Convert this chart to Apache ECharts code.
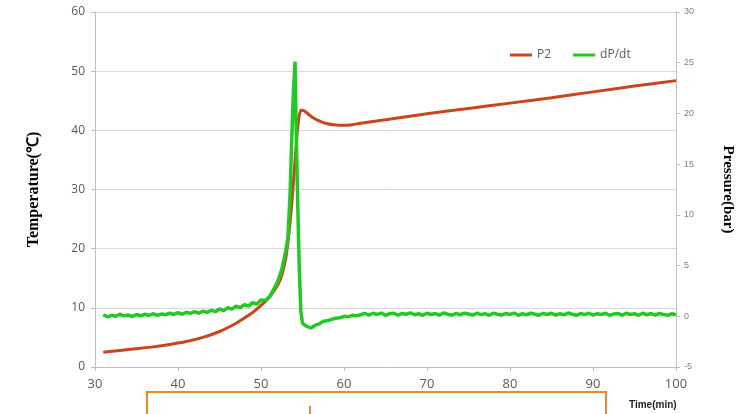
<!DOCTYPE html>
<html>
<head>
<meta charset="utf-8">
<script src="https://cdn.jsdelivr.net/npm/echarts@6/dist/echarts.min.js"></script>
<style>
html, body { margin: 0; padding: 0; background: #fff; }
#main { width: 745px; height: 414px; }
</style>
</head>
<body>
<div id="main"></div>
<script>
// P2 (left axis)
var p2Time = [31, 33, 35, 37, 39, 41, 43, 45, 47, 48, 49, 50, 51, 52, 52.5, 53, 53.4, 53.7, 54.0, 54.3, 54.55, 54.8, 55.2, 56, 57, 58, 59, 60, 61, 62, 65, 70, 75, 80, 85, 90, 95, 100];
var p2Values = [2.5, 2.8, 3.1, 3.4, 3.8, 4.3, 5.0, 6.0, 7.4, 8.3, 9.2, 10.4, 11.8, 13.8, 15.5, 18.5, 23, 27.5, 33, 38.5, 42, 43.4, 43.3, 42.4, 41.6, 41.1, 40.9, 40.85, 40.95, 41.2, 41.8, 42.8, 43.7, 44.6, 45.5, 46.5, 47.5, 48.4];

// dP/dt (right axis)
var dpdtTime = [
  31, 31.5, 32, 32.5, 33, 33.5, 34, 34.5, 35, 35.5, 36, 36.5, 37, 37.5, 38, 38.5, 39, 39.5, 40, 40.5,
  41, 41.5, 42, 42.5, 43, 43.5, 44, 44.5, 45, 45.5, 46, 46.5, 47, 47.5, 48, 48.5, 49, 49.5, 50, 50.5,
  51, 51.5, 52, 52.5, 53, 53.25, 53.5, 53.7, 53.9, 54.1, 54.2, 54.4, 54.6, 54.8, 55, 55.5, 56, 56.5, 57, 57.5,
  58, 58.5, 59, 59.5, 60, 60.5, 61, 61.5, 62, 62.5, 63, 63.5, 64, 64.5, 65, 65.5, 66, 66.5, 67, 67.5,
  68, 68.5, 69, 69.5, 70, 70.5, 71, 71.5, 72, 72.5, 73, 73.5, 74, 74.5, 75, 75.5, 76, 76.5, 77, 77.5,
  78, 78.5, 79, 79.5, 80, 80.5, 81, 81.5, 82, 82.5, 83, 83.5, 84, 84.5, 85, 85.5, 86, 86.5, 87, 87.5,
  88, 88.5, 89, 89.5, 90, 90.5, 91, 91.5, 92, 92.5, 93, 93.5, 94, 94.5, 95, 95.5, 96, 96.5, 97, 97.5,
  98, 98.5, 99, 99.5, 100
];
var dpdtValues = [
  0.15, -0.05, 0.1, 0.0, 0.2, 0.05, 0.12, -0.02, 0.18, 0.05, 0.2, 0.08, 0.25, 0.1, 0.22, 0.15, 0.3, 0.18, 0.35, 0.2,
  0.4, 0.28, 0.45, 0.3, 0.5, 0.38, 0.6, 0.45, 0.72, 0.55, 0.85, 0.7, 1.0, 0.85, 1.15, 1.0, 1.35, 1.2, 1.6, 1.55,
  1.9, 2.6, 3.4, 4.6, 6.5, 7.8, 12, 17.4, 22, 25.1, 20, 12, 5, 0.5, -0.7, -1.0, -1.15, -0.9, -0.75, -0.5,
  -0.45, -0.3, -0.2, -0.15, 0.0, -0.05, 0.1, 0.05, 0.15, 0.28, 0.12, 0.3, 0.18, 0.32, 0.1, 0.25, 0.3, 0.12, 0.28, 0.2,
  0.33, 0.15, 0.25, 0.1, 0.3, 0.18, 0.27, 0.12, 0.32, 0.2, 0.1, 0.28, 0.15, 0.3, 0.22, 0.12, 0.3, 0.16, 0.26, 0.1,
  0.3, 0.2, 0.12, 0.28, 0.18, 0.32, 0.1, 0.25, 0.15, 0.3, 0.2, 0.1, 0.28, 0.18, 0.3, 0.12, 0.25, 0.15, 0.32, 0.2,
  0.1, 0.27, 0.16, 0.3, 0.12, 0.25, 0.18, 0.3, 0.1, 0.22, 0.28, 0.12, 0.3, 0.18, 0.25, 0.1, 0.3, 0.15, 0.27, 0.12,
  0.28, 0.18, 0.1, 0.25, 0.15
];

function pairs(xs, ys) {
  var d = [];
  for (var i = 0; i < xs.length; i++) {
    d.push([xs[i], ys[i]]);
  }
  return d;
}

var myChart = echarts.init(document.getElementById('main'));

var option = {
  animation: false,
  grid: { left: 95, right: 69, top: 12, bottom: 47 },
  legend: {
    top: 44,
    left: 505,
    itemGap: 22,
    itemWidth: 22,
    itemHeight: 3,
    icon: 'rect',
    textStyle: { color: '#595959', fontSize: 12, fontFamily: 'Open Sans' },
    data: ['P2', 'dP/dt']
  },
  xAxis: {
    type: 'value',
    min: 30,
    max: 100,
    interval: 10,
    axisLine: { lineStyle: { color: '#bfbfbf' } },
    axisTick: { show: true, length: 4, lineStyle: { color: '#bfbfbf' } },
    axisLabel: { color: '#595959', fontSize: 13, fontFamily: 'Open Sans', margin: 11 },
    splitLine: { show: false }
  },
  yAxis: [{
    type: 'value',
    min: 0,
    max: 60,
    interval: 10,
    name: 'Temperature(℃)',
    nameLocation: 'middle',
    nameGap: 53,
    nameRotate: 90,
    nameTextStyle: { color: '#000', fontSize: 16, fontWeight: 'bold', fontFamily: 'Liberation Serif' },
    axisLine: { show: true, lineStyle: { color: '#bfbfbf' } },
    axisTick: { show: true, length: 4, lineStyle: { color: '#bfbfbf' } },
    axisLabel: { color: '#595959', fontSize: 12, fontFamily: 'Open Sans', margin: 10 },
    splitLine: { lineStyle: { color: '#d9d9d9' } }
  }, {
    type: 'value',
    position: 'right',
    min: -5,
    max: 30,
    interval: 5,
    name: 'Pressure(bar)',
    nameLocation: 'middle',
    nameGap: 44,
    nameRotate: -90,
    nameTextStyle: { color: '#000', fontSize: 15, fontWeight: 'bold', fontFamily: 'Liberation Serif' },
    axisLine: { show: true, lineStyle: { color: '#bfbfbf' } },
    axisTick: { show: true, length: 4, lineStyle: { color: '#bfbfbf' } },
    axisLabel: { color: '#7f7f7f', fontSize: 9, fontFamily: 'Liberation Sans', margin: 8 },
    splitLine: { show: false }
  }],
  series: [{
    name: 'P2',
    type: 'line',
    yAxisIndex: 0,
    showSymbol: false,
    smooth: 0.2,
    color: '#c8461b',
    lineStyle: { width: 3, color: '#c8461b' },
    data: pairs(p2Time, p2Values)
  }, {
    name: 'dP/dt',
    type: 'line',
    yAxisIndex: 1,
    showSymbol: false,
    color: '#22c922',
    lineStyle: { width: 3.5, color: '#22c922' },
    data: pairs(dpdtTime, dpdtValues)
  }],
  graphic: [{
    type: 'text',
    left: 629,
    top: 400,
    style: { text: 'Time(min)', fill: '#222', font: 'bold 10px "Liberation Sans"' }
  }, {
    type: 'rect',
    shape: { x: 147, y: 392, width: 459, height: 30 },
    style: { fill: 'none', stroke: '#e8892b', lineWidth: 2 }
  }, {
    type: 'rect',
    shape: { x: 309, y: 406, width: 2, height: 8 },
    style: { fill: '#e8892b' }
  }]
};

myChart.setOption(option);
</script>
</body>
</html>
